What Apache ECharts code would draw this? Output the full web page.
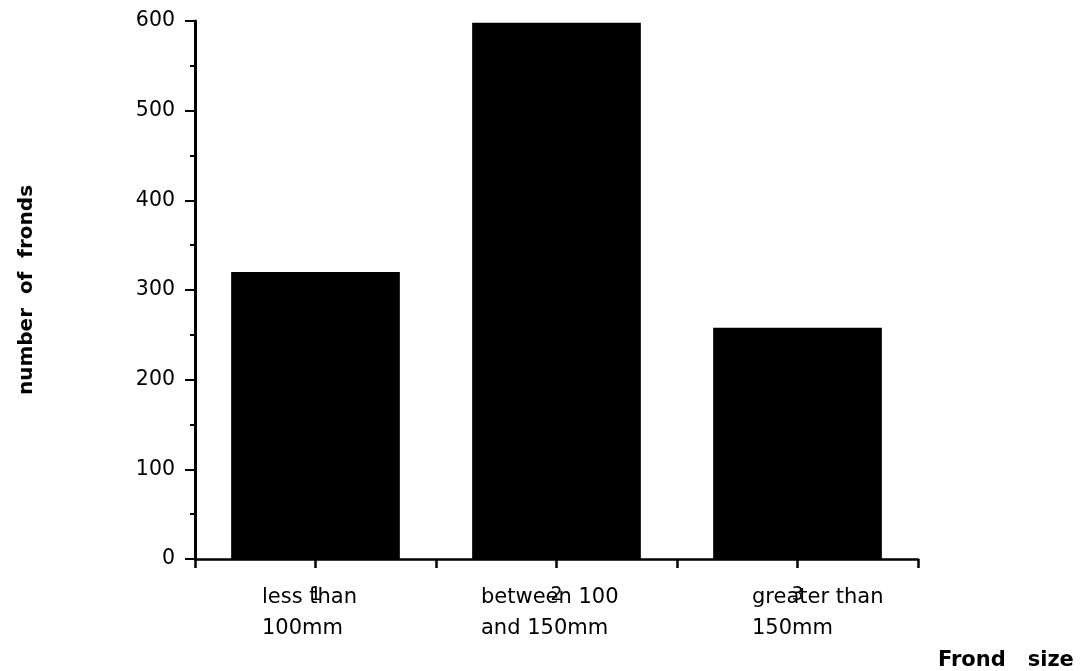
<!DOCTYPE html>
<html>
<head>
<meta charset="utf-8">
<script src="https://cdn.jsdelivr.net/npm/echarts@6/dist/echarts.min.js"></script>
<style>
html,body{margin:0;padding:0;background:#fff;}
#chart{width:1087px;height:671px;}
</style>
</head>
<body>
<div id="chart"></div>
<script>
// ---- data ----
const categories = ['less than\n100mm', 'between 100\nand 150mm', 'greater than\n150mm'];
const categoryNumbers = ['1', '2', '3'];
const fronds = [320, 598, 258];
const yMin = 0, yMax = 600, yStep = 100;
const yTitle = 'number  of  fronds';
const xTitle = 'Frond   size';

// ---- chart ----
const FONT = 'DejaVu Sans';
const chart = echarts.init(document.getElementById('chart'), null, {renderer: 'canvas'});
const tokenBase = {fontFamily: FONT, fontSize: 21, color: '#000', lineHeight: 31, align: 'left'};
chart.setOption({
  animation: false,
  backgroundColor: '#fff',
  grid: {left: 195, right: 169, top: 21, bottom: 112, containLabel: false},
  xAxis: [{
    type: 'category',
    data: categories,
    position: 'bottom',
    boundaryGap: true,
    axisLine: {show: true, lineStyle: {color: '#000', width: 2.5}},
    axisTick: {show: true, length: 9, lineStyle: {color: '#000', width: 2.5}},
    axisLabel: {
      margin: 23,
      interval: 0,
      formatter: function (value, idx) {
        return value.split('\n').map(function (l) { return '{c' + idx + '|' + l + '}'; }).join('\n');
      },
      rich: {
        c0: Object.assign({}, tokenBase, {width: 107}),
        c1: Object.assign({}, tokenBase, {width: 151}),
        c2: Object.assign({}, tokenBase, {width: 151, padding: [0, 0, 0, 60]})
      }
    },
    splitLine: {show: false},
    name: xTitle,
    nameLocation: 'end',
    nameGap: 20,
    nameTextStyle: {
      fontFamily: FONT, fontSize: 21, fontWeight: 'bold', color: '#000',
      align: 'left', verticalAlign: 'top', padding: [91, 0, 0, 0]
    }
  }, {
    type: 'category',
    data: categoryNumbers,
    position: 'bottom',
    boundaryGap: true,
    axisLine: {show: false},
    axisTick: {show: true, alignWithLabel: true, length: 9, lineStyle: {color: '#000', width: 2.5}},
    axisLabel: {margin: 27, interval: 0, fontFamily: FONT, fontSize: 19, color: '#000'},
    splitLine: {show: false}
  }],
  yAxis: {
    type: 'value',
    min: yMin, max: yMax, interval: yStep,
    axisLine: {show: true, lineStyle: {color: '#000', width: 3}},
    axisTick: {show: true, length: 10, lineStyle: {color: '#000', width: 2}},
    minorTick: {show: true, splitNumber: 2, length: 5, lineStyle: {color: '#000', width: 2}},
    axisLabel: {margin: 20, fontFamily: FONT, fontSize: 20.5, color: '#000'},
    splitLine: {show: false},
    minorSplitLine: {show: false},
    name: yTitle,
    nameLocation: 'middle',
    nameGap: 158,
    nameTextStyle: {fontFamily: FONT, fontSize: 20, fontWeight: 'bold', color: '#000'}
  },
  series: [{
    type: 'bar',
    xAxisIndex: 0,
    data: fronds,
    barWidth: '70%',
    itemStyle: {color: '#000'}
  }]
});
</script>
</body>
</html>
